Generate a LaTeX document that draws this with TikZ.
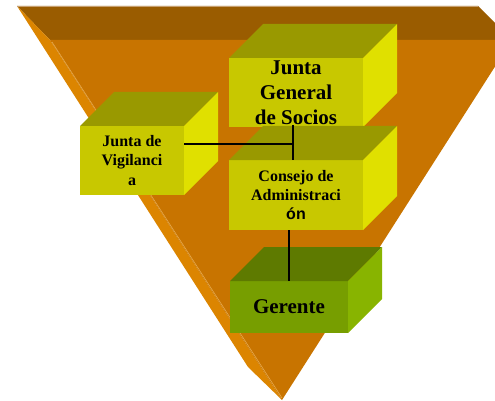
\documentclass[tikz,border=0pt]{standalone}
\usepackage{fontspec}
\setmainfont{Liberation Serif}
\setsansfont{Liberation Sans}
\begin{document}
\begin{tikzpicture}[x=1pt,y=-1pt,
  face/.style={draw=none,inner sep=0pt,outer sep=0pt,align=center,font=\bfseries},
  yface/.style={face,fill=yfront},
  gface/.style={face,fill=gfront},
  conn/.style={draw=black,line width=1.3pt}]
\definecolor{yfront}{HTML}{C8C800}
\definecolor{ytop}{HTML}{999900}
\definecolor{yright}{HTML}{E0E000}
\definecolor{gfront}{HTML}{779E00}
\definecolor{gtop}{HTML}{5E7A00}
\definecolor{gright}{HTML}{88B400}
\definecolor{ptop}{HTML}{9A5C00}
\definecolor{pfront}{HTML}{C87400}
\definecolor{pleft}{HTML}{DC8500}
\definecolor{pedge}{HTML}{C8A070}
\useasboundingbox (0,0) rectangle (495,401);
\clip (0,0) rectangle (495,401);
% inverted pyramid
\fill[ptop] (17,6) -- (478,6) -- (512,40) -- (50,40) -- cycle;
\fill[pleft] (17,6) -- (50,40) -- (282,400) -- (248,367) -- cycle;
\fill[pfront] (50,40) -- (512,40) -- (282,400) -- cycle;
\draw[pedge,line width=0.8pt] (17,6) -- (478,6);
\draw[pleft!70!white,line width=0.6pt] (52,42) -- (282,398);
% boxes
\newcommand\boxsides[3]{%
  \fill[#2] (#1.north west) -- ++(34,-34) -- ([shift={(34,-34)}]#1.north east) -- (#1.north east) -- cycle;
  \fill[#3] (#1.north east) -- ++(34,-34) -- ([shift={(34,-34)}]#1.south east) -- (#1.south east) -- cycle;}
\node[yface,minimum width=134pt,minimum height=69pt,font=\bfseries\fontsize{21}{25}\selectfont] (jgs) at (296,92.5) {Junta\\General\\de Socios};
\boxsides{jgs}{ytop}{yright}
\node[yface,minimum width=134pt,minimum height=70pt,font=\bfseries\fontsize{16}{19}\selectfont] (cons) at (296,195) {Consejo de\\Administraci\\{\sffamily ón}};
\boxsides{cons}{ytop}{yright}
\node[yface,minimum width=104pt,minimum height=69pt,font=\bfseries\fontsize{16}{19.5}\selectfont] (vig) at (132,160.5) {Junta de\\Vigilanci\\a};
\boxsides{vig}{ytop}{yright}
\node[gface,minimum width=118pt,minimum height=52pt,font=\bfseries\fontsize{21}{25}\selectfont] (ger) at (289,307) {Gerente};
\boxsides{ger}{gtop}{gright}
% connectors
\coordinate (jv) at ([xshift=-3pt,yshift=2pt]jgs.south);
\draw[conn] (jv) -- (jv |- cons.north);
\draw[conn] ([yshift=16.5pt]vig.east) -- ([yshift=16.5pt]vig.east -| jv);
\draw[conn] (cons.south -| ger.north) -- (ger.north);
\end{tikzpicture}
\end{document}
